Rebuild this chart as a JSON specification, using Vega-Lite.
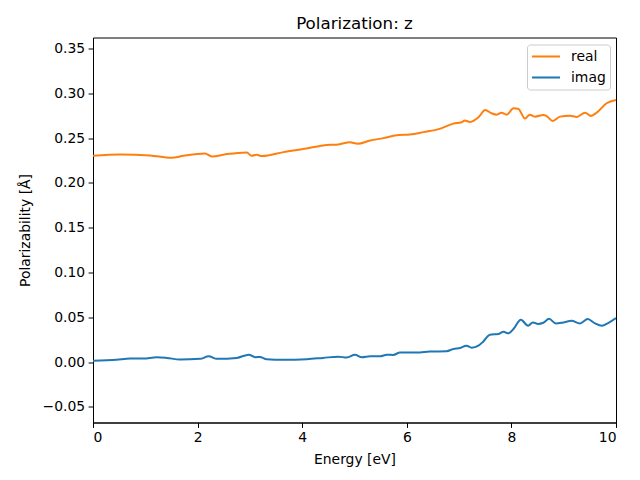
{
  "$schema": "https://vega.github.io/schema/vega-lite/v6.json",
  "autosize": "none",
  "width": 523,
  "height": 385,
  "padding": {"left": 93, "top": 37.5, "right": 24, "bottom": 57.5},
  "background": "white",
  "config": {
    "font": "DejaVu Sans",
    "view": {"stroke": "black", "strokeWidth": 1},
    "axis": {
      "grid": false,
      "domainColor": "black",
      "tickColor": "black",
      "tickSize": 4.9,
      "labelFontSize": 13.9,
      "labelFont": "DejaVu Sans",
      "labelColor": "black",
      "titleFontSize": 13.9,
      "titleFont": "DejaVu Sans",
      "titleFontWeight": "normal",
      "titleColor": "black",
      "labelPadding": 3.5
    },
    "legend": {
      "labelFontSize": 13.9,
      "labelFont": "DejaVu Sans",
      "labelColor": "black"
    },
    "title": {"font": "DejaVu Sans", "fontSize": 16.7, "fontWeight": "normal", "color": "black"}
  },
  "title": {"text": "Polarization: z", "offset": 5},
  "data": {
    "values": [
      {"E": 0.0, "value": 0.2303, "series": "real"},
      {"E": 0.52, "value": 0.2318, "series": "real"},
      {"E": 1.09, "value": 0.2307, "series": "real"},
      {"E": 1.5, "value": 0.2281, "series": "real"},
      {"E": 1.73, "value": 0.2303, "series": "real"},
      {"E": 2.14, "value": 0.2329, "series": "real"},
      {"E": 2.27, "value": 0.2296, "series": "real"},
      {"E": 2.56, "value": 0.2322, "series": "real"},
      {"E": 2.94, "value": 0.234, "series": "real"},
      {"E": 3.03, "value": 0.2303, "series": "real"},
      {"E": 3.13, "value": 0.2314, "series": "real"},
      {"E": 3.23, "value": 0.23, "series": "real"},
      {"E": 3.64, "value": 0.2344, "series": "real"},
      {"E": 4.08, "value": 0.2385, "series": "real"},
      {"E": 4.4, "value": 0.2418, "series": "real"},
      {"E": 4.72, "value": 0.2433, "series": "real"},
      {"E": 4.91, "value": 0.2453, "series": "real"},
      {"E": 5.06, "value": 0.2437, "series": "real"},
      {"E": 5.3, "value": 0.2474, "series": "real"},
      {"E": 5.55, "value": 0.25, "series": "real"},
      {"E": 5.81, "value": 0.2533, "series": "real"},
      {"E": 6.06, "value": 0.254, "series": "real"},
      {"E": 6.32, "value": 0.2567, "series": "real"},
      {"E": 6.63, "value": 0.2603, "series": "real"},
      {"E": 6.89, "value": 0.2662, "series": "real"},
      {"E": 7.05, "value": 0.2678, "series": "real"},
      {"E": 7.11, "value": 0.2696, "series": "real"},
      {"E": 7.21, "value": 0.2681, "series": "real"},
      {"E": 7.37, "value": 0.2733, "series": "real"},
      {"E": 7.5, "value": 0.2814, "series": "real"},
      {"E": 7.62, "value": 0.2778, "series": "real"},
      {"E": 7.72, "value": 0.2762, "series": "real"},
      {"E": 7.81, "value": 0.2784, "series": "real"},
      {"E": 7.91, "value": 0.2762, "series": "real"},
      {"E": 8.04, "value": 0.2833, "series": "real"},
      {"E": 8.13, "value": 0.2829, "series": "real"},
      {"E": 8.26, "value": 0.2718, "series": "real"},
      {"E": 8.35, "value": 0.2762, "series": "real"},
      {"E": 8.45, "value": 0.274, "series": "real"},
      {"E": 8.61, "value": 0.2759, "series": "real"},
      {"E": 8.67, "value": 0.2748, "series": "real"},
      {"E": 8.79, "value": 0.2692, "series": "real"},
      {"E": 8.93, "value": 0.274, "series": "real"},
      {"E": 9.12, "value": 0.2751, "series": "real"},
      {"E": 9.25, "value": 0.2737, "series": "real"},
      {"E": 9.41, "value": 0.2784, "series": "real"},
      {"E": 9.52, "value": 0.2748, "series": "real"},
      {"E": 9.63, "value": 0.2784, "series": "real"},
      {"E": 9.82, "value": 0.2889, "series": "real"},
      {"E": 10.0, "value": 0.2926, "series": "real"},
      {"E": 0.0, "value": 0.0015, "series": "imag"},
      {"E": 0.45, "value": 0.0026, "series": "imag"},
      {"E": 0.71, "value": 0.004, "series": "imag"},
      {"E": 0.96, "value": 0.004, "series": "imag"},
      {"E": 1.22, "value": 0.0055, "series": "imag"},
      {"E": 1.41, "value": 0.0048, "series": "imag"},
      {"E": 1.66, "value": 0.003, "series": "imag"},
      {"E": 2.05, "value": 0.0037, "series": "imag"},
      {"E": 2.21, "value": 0.0067, "series": "imag"},
      {"E": 2.37, "value": 0.0037, "series": "imag"},
      {"E": 2.75, "value": 0.0048, "series": "imag"},
      {"E": 2.98, "value": 0.0084, "series": "imag"},
      {"E": 3.1, "value": 0.0055, "series": "imag"},
      {"E": 3.19, "value": 0.0059, "series": "imag"},
      {"E": 3.32, "value": 0.0033, "series": "imag"},
      {"E": 3.64, "value": 0.0026, "series": "imag"},
      {"E": 4.09, "value": 0.0033, "series": "imag"},
      {"E": 4.4, "value": 0.0048, "series": "imag"},
      {"E": 4.69, "value": 0.0062, "series": "imag"},
      {"E": 4.85, "value": 0.0051, "series": "imag"},
      {"E": 5.01, "value": 0.0082, "series": "imag"},
      {"E": 5.14, "value": 0.0055, "series": "imag"},
      {"E": 5.3, "value": 0.0066, "series": "imag"},
      {"E": 5.49, "value": 0.0066, "series": "imag"},
      {"E": 5.62, "value": 0.0084, "series": "imag"},
      {"E": 5.74, "value": 0.0081, "series": "imag"},
      {"E": 5.87, "value": 0.0107, "series": "imag"},
      {"E": 6.19, "value": 0.0107, "series": "imag"},
      {"E": 6.44, "value": 0.0118, "series": "imag"},
      {"E": 6.76, "value": 0.0122, "series": "imag"},
      {"E": 6.89, "value": 0.0148, "series": "imag"},
      {"E": 7.02, "value": 0.0159, "series": "imag"},
      {"E": 7.14, "value": 0.0184, "series": "imag"},
      {"E": 7.24, "value": 0.0162, "series": "imag"},
      {"E": 7.37, "value": 0.0184, "series": "imag"},
      {"E": 7.46, "value": 0.0229, "series": "imag"},
      {"E": 7.59, "value": 0.0307, "series": "imag"},
      {"E": 7.75, "value": 0.0314, "series": "imag"},
      {"E": 7.85, "value": 0.034, "series": "imag"},
      {"E": 7.94, "value": 0.0322, "series": "imag"},
      {"E": 8.04, "value": 0.037, "series": "imag"},
      {"E": 8.18, "value": 0.0473, "series": "imag"},
      {"E": 8.32, "value": 0.0407, "series": "imag"},
      {"E": 8.41, "value": 0.0444, "series": "imag"},
      {"E": 8.51, "value": 0.0426, "series": "imag"},
      {"E": 8.61, "value": 0.044, "series": "imag"},
      {"E": 8.72, "value": 0.0484, "series": "imag"},
      {"E": 8.85, "value": 0.0433, "series": "imag"},
      {"E": 8.99, "value": 0.0444, "series": "imag"},
      {"E": 9.15, "value": 0.0462, "series": "imag"},
      {"E": 9.31, "value": 0.0433, "series": "imag"},
      {"E": 9.46, "value": 0.0481, "series": "imag"},
      {"E": 9.6, "value": 0.0433, "series": "imag"},
      {"E": 9.73, "value": 0.0407, "series": "imag"},
      {"E": 9.85, "value": 0.0437, "series": "imag"},
      {"E": 10.0, "value": 0.0492, "series": "imag"}
    ]
  },
  "mark": {"type": "line", "strokeWidth": 2, "interpolate": "monotone", "clip": true},
  "encoding": {
    "x": {
      "field": "E",
      "type": "quantitative",
      "title": "Energy [eV]",
      "scale": {"domain": [0, 10], "nice": false, "zero": false},
      "axis": {"values": [0, 2, 4, 6, 8, 10], "format": "d", "titlePadding": 8}
    },
    "y": {
      "field": "value",
      "type": "quantitative",
      "title": "Polarizability [Å]",
      "scale": {"domain": [-0.0673, 0.3623], "nice": false, "zero": false},
      "axis": {"values": [-0.05, 0, 0.05, 0.1, 0.15, 0.2, 0.25, 0.3, 0.35], "format": ".2f", "titlePadding": 10}
    },
    "color": {
      "field": "series",
      "type": "nominal",
      "sort": ["real", "imag"],
      "scale": {"domain": ["real", "imag"], "range": ["#ff7f0e", "#1f77b4"]},
      "legend": {
        "title": null,
        "orient": "top-right",
        "offset": 6.5,
        "symbolType": "stroke",
        "symbolSize": 784,
        "symbolStrokeWidth": 2,
        "clipHeight": 16,
        "strokeColor": "#cccccc",
        "fillColor": "white",
        "cornerRadius": 3,
        "padding": 4,
        "rowPadding": 5,
        "labelOffset": 10
      }
    }
  }
}
